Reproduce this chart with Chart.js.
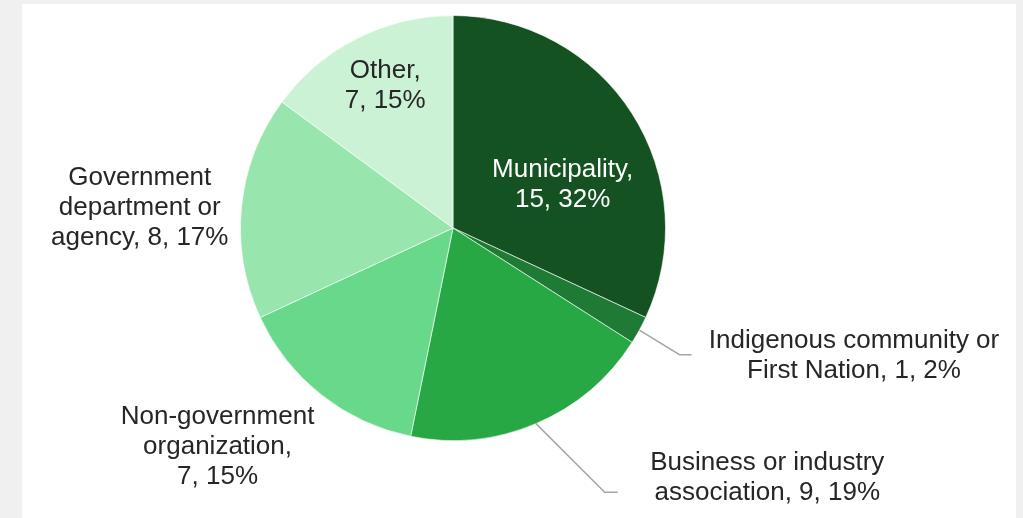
<!DOCTYPE html>
<html>
<head>
<meta charset="utf-8">
<script src="https://cdn.jsdelivr.net/npm/chart.js@4"></script>
<style>
    html, body { margin: 0; padding: 0; background: #f0f0f0; }
    #panel { position: absolute; left: 22px; top: 4px; width: 994px; height: 514px; background: #ffffff; }
</style>
</head>
<body>
<div id="panel"><canvas id="pieChart" width="994" height="514"></canvas></div>
<script>
// Chart data
const categories = ['Municipality', 'Indigenous community or First Nation', 'Business or industry association',
    'Non-government organization', 'Government department or agency', 'Other'];
const counts = [15, 1, 9, 7, 8, 7];
const percents = ['32%', '2%', '19%', '15%', '17%', '15%'];
const labelLines = [
    ['Municipality,', '15, 32%'],
    ['Indigenous community or', 'First Nation, 1, 2%'],
    ['Business or industry', 'association, 9, 19%'],
    ['Non-government', 'organization,', '7, 15%'],
    ['Government', 'department or', 'agency, 8, 17%'],
    ['Other,', '7, 15%']
];
const sliceColors = ['#145222', '#1f7a35', '#28a745', '#68d98a', '#98e6ae', '#ccf2d6'];

// Label placement relative to pie center, in units of radius
const labelPos = [
    { x: 0.516, y: -0.202, color: '#ffffff' },
    { x: 1.887, y: 0.601, leader: [[1.066, 0.596], [1.122, 0.596]] },
    { x: 1.479, y: 1.174, leader: [[0.714, 1.244], [0.775, 1.244]] },
    { x: -1.108, y: 1.028 },
    { x: -1.474, y: -0.094 },
    { x: -0.319, y: -0.667 }
];

// Draw labels and leader lines
const pieLabels = {
    id: 'pieLabels',
    afterDatasetsDraw(chart) {
        const ctx = chart.ctx;
        const arcs = chart.getDatasetMeta(0).data;
        ctx.save();
        ctx.font = '26px "Liberation Sans", Arial, sans-serif';
        ctx.textAlign = 'center';
        ctx.textBaseline = 'middle';
        arcs.forEach((arc, i) => {
            const cx = arc.x, cy = arc.y, r = arc.outerRadius;
            const pos = labelPos[i];
            if (pos.leader) {
                const mid = (arc.startAngle + arc.endAngle) / 2;
                ctx.beginPath();
                ctx.moveTo(cx + r * Math.cos(mid), cy + r * Math.sin(mid));
                pos.leader.forEach(p => ctx.lineTo(cx + r * p[0], cy + r * p[1]));
                ctx.strokeStyle = '#a6a6a6';
                ctx.lineWidth = 1.5;
                ctx.stroke();
            }
            const lines = labelLines[i];
            const lh = 30;
            const lx = cx + r * pos.x;
            const ly = cy + r * pos.y - (lines.length - 1) * lh / 2;
            ctx.fillStyle = pos.color || '#262626';
            lines.forEach((t, k) => ctx.fillText(t, lx, ly + k * lh));
        });
        ctx.restore();
    }
};

new Chart(document.getElementById('pieChart').getContext('2d'), {
    type: 'pie',
    data: {
        labels: categories,
        datasets: [{
            data: counts,
            backgroundColor: sliceColors,
            borderColor: 'rgba(255,255,255,0.6)',
            borderWidth: 1
        }]
    },
    options: {
        responsive: false,
        animation: false,
        layout: { padding: { left: 0, right: 132, top: 11, bottom: 77 } },
        plugins: {
            legend: { display: false },
            tooltip: { enabled: false }
        }
    },
    plugins: [pieLabels]
});
</script>
</body>
</html>
